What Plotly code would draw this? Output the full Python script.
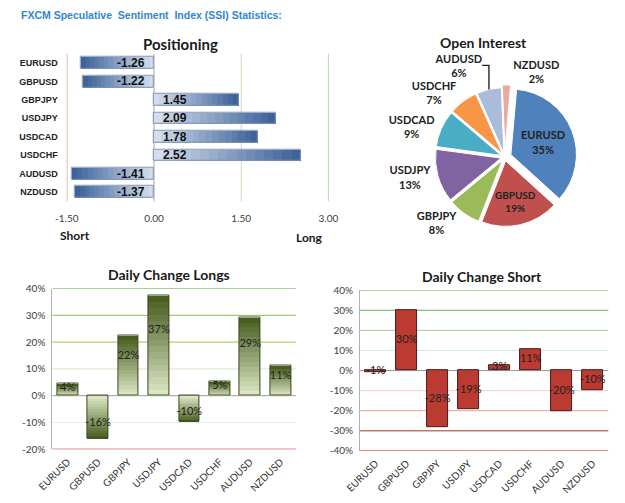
import plotly.graph_objects as go

W, H = 625, 503

pairs = ["EURUSD", "GBPUSD", "GBPJPY", "USDJPY", "USDCAD", "USDCHF", "AUDUSD", "NZDUSD"]
positioning = [-1.26, -1.22, 1.45, 2.09, 1.78, 2.52, -1.41, -1.37]
oi_values = [35, 19, 8, 13, 9, 7, 6, 2]
longs_change = [4.4, -15.9, 22.4, 37.4, -9.8, 5.2, 29.3, 11.2]
shorts_change = [-1.0, 29.9, -28.3, -19.4, 2.9, 10.8, -20.2, -10.0]

pos_ticks = [-1.5, 0.0, 1.5, 3.0]
pos_ticktext = ["-1.50", "0.00", "1.50", "3.00"]
long_ticks = [-20, -10, 0, 10, 20, 30, 40]
short_ticks = [-40, -30, -20, -10, 0, 10, 20, 30, 40]

pie_colors = ["#4f81bd", "#c0504d", "#9bbb59", "#8064a2", "#4bacc6", "#f79646", "#a9bcd9", "#e8aaa2"]
pos_grid_colors = ["#b5653c", "#a6a6a6", "#c9ddb8", "#5cb85c"]
long_grid_colors = ["#c00000", "#ddf0f4", "#9a9a9a", "#d4e8c8", "#9cc84a", "#7dc05a", "#4e9f3d"]
short_grid_colors = ["#d04020", "#b03020", "#e8a090", "#f2cfc8", "#9a9a9a", "#d0ecec", "#a6d08a", "#6ab04c", "#6aaa50"]

FONT = "Lato"


def px(x):
    return x / W


def py(y):
    return 1 - y / H


def hexrgb(c):
    c = c.lstrip("#")
    return tuple(int(c[i:i + 2], 16) for i in (0, 2, 4))


def interp(c1, c2, t):
    a, b = hexrgb(c1), hexrgb(c2)
    return "rgb(%d,%d,%d)" % tuple(round(a[i] + (b[i] - a[i]) * t) for i in range(3))


fig = go.Figure()


def gradient_bars(vals, xa, ya, horizontal, c_base, c_end, width, line_col, n=16):
    # each layer runs from a growing base to the bar end, so layers overlap without seams
    for k in range(n):
        col = interp(c_base, c_end, k / (n - 1))
        base = [v * k / n for v in vals]
        length = [v * (n - k) / n for v in vals]
        kw = dict(base=base, marker=dict(color=col, line=dict(width=0)), width=width,
                  xaxis=xa, yaxis=ya, showlegend=False, hoverinfo="skip")
        if horizontal:
            fig.add_trace(go.Bar(x=length, y=pairs, orientation="h", **kw))
        else:
            fig.add_trace(go.Bar(x=pairs, y=length, **kw))
    kw = dict(marker=dict(color="rgba(0,0,0,0)", line=dict(width=1, color=line_col)), width=width,
              xaxis=xa, yaxis=ya, showlegend=False, hoverinfo="skip")
    if horizontal:
        fig.add_trace(go.Bar(x=vals, y=pairs, orientation="h", **kw))
    else:
        fig.add_trace(go.Bar(x=pairs, y=vals, **kw))


# ---------- Positioning ----------
gradient_bars(positioning, "x", "y", True, "#d3ddec", "#3d6399", 0.64, "#7f93b3")

# ---------- Open Interest pie ----------
fig.add_trace(go.Pie(
    labels=pairs, values=oi_values, sort=False, direction="clockwise", rotation=5,
    marker=dict(colors=pie_colors, line=dict(color="white", width=1)),
    pull=[0.1, 0.06, 0.06, 0.06, 0.06, 0.06, 0.06, 0.1],
    texttemplate="<b>%{label}<br>%{value}%</b>",
    textposition=["inside", "inside", "outside", "outside", "outside", "outside", "outside", "outside"],
    insidetextorientation="horizontal",
    textfont=dict(family=FONT, size=11, color="#222222"),
    insidetextfont=dict(family=FONT, size=11, color="#222222"),
    outsidetextfont=dict(family=FONT, size=11, color="#222222"),
    domain=dict(x=[px(425), px(595)], y=[py(228), py(80)]),
    showlegend=False, hoverinfo="skip",
))

# ---------- Daily Change Longs ----------
gradient_bars(longs_change, "x3", "y3", False, "#dbe6c4", "#4a5e22", 0.68, "#3a4a1e")
fig.add_trace(go.Scatter(
    x=pairs, y=[v * 0.65 for v in longs_change], mode="text",
    text=["%d%%" % round(v) for v in longs_change],
    textfont=dict(family=FONT, size=11, color="#222222"),
    xaxis="x3", yaxis="y3", showlegend=False, hoverinfo="skip"))

# ---------- Daily Change Short ----------
fig.add_trace(go.Bar(
    x=pairs, y=shorts_change, width=0.68,
    marker=dict(color="#bb3a32", line=dict(width=1, color="#4a1a1a")),
    xaxis="x4", yaxis="y4", showlegend=False, hoverinfo="skip"))
fig.add_trace(go.Scatter(
    x=pairs, y=[v / 2 for v in shorts_change], mode="text",
    text=["%d%%" % round(v) for v in shorts_change],
    textfont=dict(family=FONT, size=11, color="#222222"),
    xaxis="x4", yaxis="y4", showlegend=False, hoverinfo="skip"))

shapes = []
for v, c in zip(pos_ticks, pos_grid_colors):
    shapes.append(dict(type="line", xref="x", yref="y domain", x0=v, x1=v, y0=0, y1=1,
                       line=dict(color=c, width=1), layer="below"))
for v, c in zip(long_ticks, long_grid_colors):
    shapes.append(dict(type="line", xref="x3 domain", yref="y3", x0=0, x1=1, y0=v, y1=v,
                       line=dict(color=c, width=1), layer="below"))
for v, c in zip(short_ticks, short_grid_colors):
    shapes.append(dict(type="line", xref="x4 domain", yref="y4", x0=0, x1=1, y0=v, y1=v,
                       line=dict(color=c, width=1), layer="below"))

P = dict(xref="paper", yref="paper", showarrow=False, xanchor="center", yanchor="middle")
annotations = [
    dict(text="FXCM Speculative  Sentiment  Index (SSI) Statistics:", x=px(3), y=py(8),
         xref="paper", yref="paper", showarrow=False, xanchor="left", yanchor="middle",
         font=dict(family="Liberation Sans", size=10.5, color="#2f86d4", weight="bold")),
    dict(text="<b>Positioning</b>", x=px(172), y=py(38),
         font=dict(family=FONT, size=15, color="#1a1a1a"), **P),
    dict(text="<b>Short</b>", x=px(62), y=py(235),
         font=dict(family=FONT, size=12, color="#1a1a1a"), **P),
    dict(text="<b>Long</b>", x=px(306), y=py(237),
         font=dict(family=FONT, size=12, color="#1a1a1a"), **P),
    dict(text="<b>Open Interest</b>", x=px(488), y=py(36),
         font=dict(family=FONT, size=14, color="#1a1a1a"), **P),
    dict(text="<b>Daily Change Longs</b>", x=px(160), y=py(275),
         font=dict(family=FONT, size=14, color="#1a1a1a"), **P),
    dict(text="<b>Daily Change Short</b>", x=px(486), y=py(277),
         font=dict(family=FONT, size=14, color="#1a1a1a"), **P),
]
for cat, v in zip(pairs, positioning):
    annotations.append(dict(
        text="<b>%.2f</b>" % v, x=0, y=cat, xref="x", yref="y", showarrow=False,
        xanchor="right" if v < 0 else "left", xshift=-7 if v < 0 else 7,
        font=dict(family="Liberation Sans", size=12, color="#111111")))

tickfont = dict(family=FONT, size=10, color="#404040")
fig.update_layout(
    width=W, height=H, margin=dict(l=0, r=0, t=0, b=0),
    paper_bgcolor="white", plot_bgcolor="rgba(0,0,0,0)",
    barmode="overlay", bargap=0,
    shapes=shapes, annotations=annotations,
    xaxis=dict(domain=[px(53), px(326)], range=[-1.5, 3.0], tickvals=pos_ticks, ticktext=pos_ticktext,
               showgrid=False, zeroline=False, showline=False, ticks="", ticklabelstandoff=10,
               tickfont=dict(family=FONT, size=10, color="#404040"), anchor="y"),
    yaxis=dict(domain=[py(199.5), py(48)], type="category", autorange="reversed",
               showgrid=False, zeroline=False, showline=False, ticks="", ticklabelstandoff=8,
               tickfont=dict(family="Liberation Sans", size=9, color="#222222", weight="bold"),
               anchor="x"),
    xaxis3=dict(domain=[px(38), px(292)], type="category", anchor="y3", showgrid=False,
                showline=False, ticks="", tickangle=-45, tickfont=dict(family=FONT, size=10, color="#333333"),
                ticklabelstandoff=4),
    yaxis3=dict(domain=[py(454), py(289)], range=[-20, 40], tickvals=long_ticks,
                ticktext=["%d%%" % t for t in long_ticks], showgrid=False, zeroline=False,
                showline=True, linecolor="#b0b0b0", ticks="", tickfont=tickfont, anchor="x3",
                ticklabelstandoff=4),
    xaxis4=dict(domain=[px(359), px(618)], type="category", anchor="y4", showgrid=False,
                showline=False, ticks="", tickangle=-45, tickfont=dict(family=FONT, size=10, color="#333333"),
                ticklabelstandoff=4),
    yaxis4=dict(domain=[py(455.7), py(290.7)], range=[-40, 40], tickvals=short_ticks,
                ticktext=["%d%%" % t for t in short_ticks], showgrid=False, zeroline=False,
                showline=True, linecolor="#b0b0b0", ticks="", tickfont=tickfont, anchor="x4",
                ticklabelstandoff=4),
)

fig.write_html("out.html")
